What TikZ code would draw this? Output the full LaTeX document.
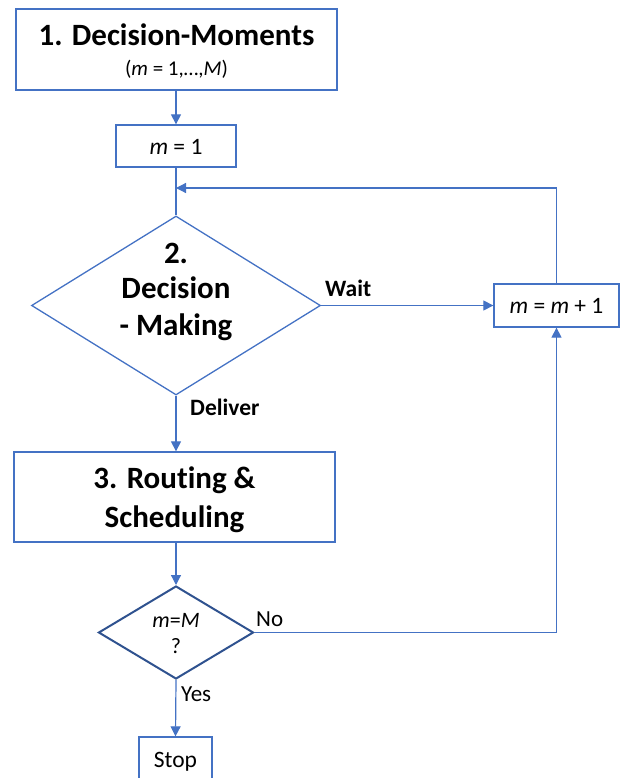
\documentclass[tikz,border=0pt]{standalone}
\usepackage{fontspec}
\setmainfont[Ligatures=NoCommon]{Carlito}
\usetikzlibrary{shapes.geometric,arrows.meta}
\definecolor{lblue}{HTML}{4472C4}
\definecolor{dblue}{HTML}{2F528F}
\begin{document}
\begin{tikzpicture}[x=1pt,y=-1pt,
  box/.style={draw=lblue,line width=1.3pt,rectangle,inner sep=0pt},
  dia/.style={draw=lblue,line width=1.3pt,diamond,inner sep=0pt},
  conn/.style={draw=lblue,line width=1.2pt},
  arr/.style={conn,-{Triangle[length=10pt,width=10pt]}},
  big/.style={inner sep=0pt,anchor=base,font=\fontsize{31}{37}\selectfont\bfseries},
  mid/.style={inner sep=0pt,anchor=base,font=\fontsize{23.5}{28}\selectfont},
  lbl/.style={inner sep=0pt,anchor=base west,font=\fontsize{23}{28}\selectfont},
  blbl/.style={inner sep=0pt,anchor=base west,font=\fontsize{23.5}{28}\selectfont\bfseries}]
\useasboundingbox (0,0) rectangle (622,778);
\clip (0,0) rectangle (622,778);
% box 1
\node[box,minimum width=321pt,minimum height=81pt] (b1) at (176.5,49.5) {};
\node[big] (b1t) at (176.5,46) {1. Decision-Moments};
\node[inner sep=0pt,anchor=base,font=\fontsize{21}{25}\selectfont] (b1s) at (176.5,76) {(\textit{m} = 1,…,\textit{M})};
% box 2
\node[box,minimum width=120pt,minimum height=42pt] (b2) at (176,146) {};
\node[mid] (b2t) at (176,154) {\textit{m} = 1};
% diamond 1
\node[dia,minimum width=289pt,minimum height=179pt] (d1) at (176,305.5) {};
\node[big] (d1a) at (176,263) {2.};
\node[big] (d1b) at (176,298) {Decision};
\node[big] (d1c) at (176,335) {- Making};
% increment box
\node[box,minimum width=125pt,minimum height=43pt] (inc) at (556.5,305.5) {};
\node[mid] (inct) at (556.5,313) {\textit{m} = \textit{m} + 1};
% box 3
\node[box,minimum width=321pt,minimum height=90pt] (b3) at (174.5,497) {};
\node[big] (b3a) at (174.5,488) {3. Routing \&};
\node[big] (b3b) at (174.5,527) {Scheduling};
% diamond 2
\node[draw=dblue,line width=2pt,diamond,inner sep=0pt,minimum width=155pt,minimum height=93pt] (d2) at (176,632.5) {};
\node[inner sep=0pt,anchor=base,font=\fontsize{22}{26}\selectfont] (d2a) at (176,627) {\textit{m}=\textit{M}};
\node[inner sep=0pt,anchor=base,font=\fontsize{22}{26}\selectfont] (d2b) at (176,653) {?};
% stop
\node[box,minimum width=73pt,minimum height=46pt] (stop) at (175.5,760) {};
\node[mid] (stopt) at (175.5,767) {Stop};
% connectors
\coordinate (j) at (176,188);
\draw[arr] (b1.south -| b2) -- (b2.north);
\draw[conn] (b2.south) -- (d1.north);
\draw[arr] (inc.north) |- (j);
\draw[arr] (d1.east) -- (inc.west);
\node[blbl] (lw) at (325,296) {Wait};
\draw[arr] (d1.south) -- (b3.north -| d1);
\node[blbl] (ld) at (190,415) {Deliver};
\draw[arr] (b3.south -| d2) -- (d2.north);
\draw[arr] (d2.east) -| (inc.south);
\node[lbl] (lno) at (256,626) {No};
\draw[arr] (d2.south) -- (stop.north);
\node[lbl] (lyes) at (181,701) {Yes};
\end{tikzpicture}
\end{document}
